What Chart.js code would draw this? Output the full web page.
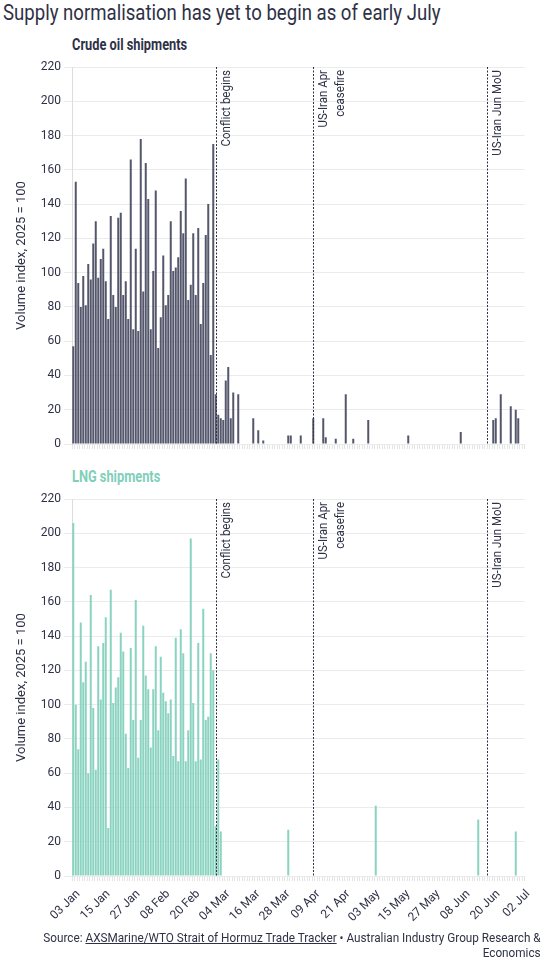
<!DOCTYPE html>
<html><head><meta charset="utf-8">
<script src="https://cdn.jsdelivr.net/npm/chart.js@4.4.1/dist/chart.umd.min.js"></script>
<style>
html,body{margin:0;padding:0;background:#fff;}
body{width:548px;height:965px;position:relative;overflow:hidden;font-family:Roboto,"Noto Sans",sans-serif;color:#2e3146;}
.t{position:absolute;white-space:nowrap;transform-origin:left top;}
#title{left:3px;top:0px;font-size:22px;transform:scaleX(0.845);}
#sub1{left:72px;top:35px;font-size:16px;font-weight:bold;transform:scaleX(0.8);}
#sub2{left:72px;top:467px;font-size:16px;font-weight:bold;color:#7fcfba;transform:scaleX(0.8);}
#foot{position:absolute;right:7px;top:930px;font-size:13.5px;line-height:15px;text-align:right;transform-origin:right top;transform:scaleX(0.87);white-space:nowrap;}
#foot a{color:inherit;text-decoration:underline;}
canvas{position:absolute;left:0;}
</style></head>
<body>
<div class="t" id="title">Supply normalisation has yet to begin as of early July</div>
<div class="t" id="sub1">Crude oil shipments</div>
<div class="t" id="sub2">LNG shipments</div>
<canvas id="c1" width="548" height="460" style="top:0px"></canvas>
<canvas id="c2" width="548" height="475" style="top:460px"></canvas>
<div id="foot">Source: <a>AXSMarine/WTO Strait of Hormuz Trade Tracker</a> • Australian Industry Group Research &amp;<br>Economics</div>
<script>
// ---- data ----
const crude = [
57,153,94,80,98,81,105,96,117,130,
97,108,114,95,73,133,87,80,132,135,
87,95,73,166,67,114,66,178,89,164,
143,67,101,148,56,74,110,81,87,130,
101,103,109,136,123,155,84,93,123,87,
126,70,94,122,140,52,175,29,17,15,
14,37,45,15,30,0,29,0,0,0,
0,0,15,0,8,0,2,0,0,0,
0,0,0,0,0,0,5,5,0,0,
0,5,0,0,0,0,15,0,0,0,
15,4,0,0,0,3,0,0,0,29,
0,0,3,0,0,0,0,0,14,0,
0,0,0,0,0,0,0,0,0,0,
0,0,0,0,5,0,0,0,0,0,
0,0,0,0,0,0,0,0,0,0,
0,0,0,0,0,7,0,0,0,0,
0,0,0,0,0,0,0,0,14,15,
0,29,0,0,0,22,0,20,15,0,
0];
const lng = [
206,100,74,148,113,125,60,164,98,62,
134,103,136,151,28,167,101,110,116,142,
131,83,63,133,91,161,69,91,146,117,
109,75,109,134,85,128,107,102,95,103,
70,139,67,144,130,67,85,197,101,67,
136,68,156,91,93,130,120,29,68,26,
0,0,0,0,0,0,0,0,0,0,
0,0,0,0,0,0,0,0,0,0,
0,0,0,0,0,0,27,0,0,0,
0,0,0,0,0,0,0,0,0,0,
0,0,0,0,0,0,0,0,0,0,
0,0,0,0,0,0,0,0,0,0,
0,41,0,0,0,0,0,0,0,0,
0,0,0,0,0,0,0,0,0,0,
0,0,0,0,0,0,0,0,0,0,
0,0,0,0,0,0,0,0,0,0,
0,0,33,0,0,0,0,0,0,0,
0,0,0,0,0,0,0,26,0,0,
0];
const tickLabels = ['03 Jan','15 Jan','27 Jan','08 Feb','20 Feb','04 Mar','16 Mar','28 Mar','09 Apr','21 Apr','03 May','15 May','27 May','08 Jun','20 Jun','02 Jul'];
const yTicks = [0,20,40,60,80,100,120,140,160,180,200,220];
const eventPos = [57.0, 96.0, 165.6];
const eventText = [['Conflict begins'], ['US-Iran Apr','ceasefire'], ['US-Iran Jun MoU']];

// category dates (one per day from 03 Jan)
const months = ['Jan','Feb','Mar','Apr','May','Jun','Jul'];
const days = [];
for (let i = 0; i < crude.length; i++) {
  const d = new Date(Date.UTC(2026, 0, 3 + i));
  days.push(String(d.getUTCDate()).padStart(2,'0') + ' ' + months[d.getUTCMonth()]);
}

const INK = '#2e3146';
const GRID = '#ebebeb';

const eventLines = {
  id: 'eventLines',
  afterDatasetsDraw(chart) {
    const {ctx, chartArea: {top, bottom}, scales: {x}} = chart;
    ctx.save();
    eventPos.forEach((p, k) => {
      const px = Math.round(x.getPixelForValue(p)) + 0.5;
      ctx.beginPath();
      ctx.setLineDash([2, 1.5]);
      ctx.strokeStyle = INK;
      ctx.lineWidth = 1;
      ctx.moveTo(px, top);
      ctx.lineTo(px, bottom);
      ctx.stroke();
      ctx.setLineDash([]);
      ctx.save();
      ctx.translate(px + 4, top + 3);
      ctx.rotate(-Math.PI / 2);
      ctx.scale(0.92, 1);
      ctx.font = '12.5px Roboto';
      ctx.fillStyle = INK;
      ctx.textAlign = 'right';
      ctx.textBaseline = 'top';
      eventText[k].forEach((ln, i) => ctx.fillText(ln, 0, i * 17));
      ctx.restore();
    });
    ctx.restore();
  }
};

function makeChart(id, values, color, showLabels, padTop, padBottom, xHeight) {
  return new Chart(document.getElementById(id), {
    type: 'bar',
    data: {
      labels: days,
      datasets: [{
        data: values,
        backgroundColor: color,
        borderWidth: 0,
        barPercentage: 0.8,
        categoryPercentage: 1.0
      }]
    },
    options: {
      responsive: false,
      animation: false,
      devicePixelRatio: 1,
      layout: { padding: { top: padTop, left: 0, right: 23.5, bottom: padBottom } },
      plugins: { legend: { display: false }, tooltip: { enabled: false } },
      scales: {
        x: {
          offset: true,
          afterFit: s => { s.height = xHeight; },
          grid: { display: true, drawOnChartArea: false, drawTicks: true, tickLength: 5, color: '#e4e4e4' },
          border: { display: false },
          ticks: {
            display: showLabels,
            autoSkip: false,
            maxRotation: 45,
            minRotation: 45,
            padding: 6,
            labelOffset: 5,
            color: INK,
            font: { family: 'Roboto', size: 12 },
            callback: (v, i) => (i % 12 === 0 ? tickLabels[i / 12] : '')
          }
        },
        y: {
          min: 0,
          max: 220,
          afterFit: s => { s.width = 72; },
          afterBuildTicks: s => { s.ticks = yTicks.map(v => ({ value: v })); },
          grid: { color: GRID, lineWidth: 1, tickLength: 8 },
          border: { display: true, color: '#dddddd' },
          ticks: { color: INK, padding: 3, font: { family: 'Roboto', size: 12 } },
          title: {
            display: true,
            text: 'Volume index, 2025 = 100',
            color: INK,
            font: { family: 'Roboto', size: 13 },
            padding: { top: 14, bottom: 0 }
          }
        }
      }
    },
    plugins: [eventLines]
  });
}

makeChart('c1', crude, '#54576b', false, 67, 10, 6);
makeChart('c2', lng, '#8ad3c0', true, 39, 0, 59);
</script>
</body></html>
